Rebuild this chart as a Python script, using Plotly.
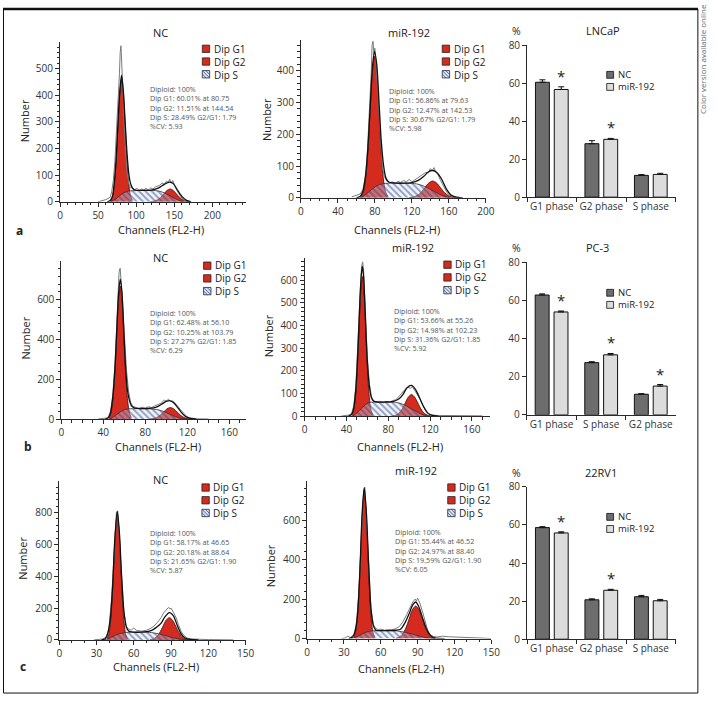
"""
Cell-cycle figure: ModFit DNA histograms (NC vs miR-192) and phase bar charts
for LNCaP, PC-3 and 22RV1 cells.
"""

import plotly.graph_objects as go

W, H = 717, 702
FONT = "Open Sans"
AX = "#2a2a2a"
RED = "#d42b1e"
RED_LINE = "#3b0d08"
HATCH = "#2f4a8a"

# ---------------- row a: LNCaP histograms ----------------
A_NC_G1_X = [66.4, 68.8, 71.2, 73.6, 76.0, 78.4, 80.75, 83.2, 85.6, 88.0, 90.4, 92.8, 95.2]
A_NC_G1_Y = [5, 20, 62, 149, 279, 406, 460, 406, 279, 149, 62, 20, 5]
A_NC_G2_X = [119, 123, 127.5, 132, 136, 140.3, 144.54, 148.8, 153, 157.3, 161.5, 166, 170]
A_NC_G2_Y = [0.5, 2, 6.5, 16, 29, 42, 48, 42, 29, 16, 6.5, 2, 0.5]
A_NC_S_X = [66, 72, 78, 84, 90, 100, 110, 120, 130, 138, 146, 154, 162]
A_NC_S_Y = [0, 8, 22, 34, 40, 42, 43, 43, 40, 32, 20, 8, 0]
A_NC_FIT_X = [62, 66, 69, 71, 73.5, 76, 78.5, 80.75, 83, 85.5, 88, 90.5, 93, 96, 100, 110, 120,
              128, 134, 140, 144.5, 149, 154, 160, 166, 172]
A_NC_FIT_Y = [0, 5, 22, 65, 155, 290, 415, 475, 420, 300, 180, 100, 65, 48, 43, 43, 44,
              50, 60, 70, 74, 67, 45, 20, 5, 0]
A_NC_DATA_X = [50, 55, 60, 63, 66, 68, 70, 72, 74, 76, 78, 79, 80, 81, 82, 84, 86, 88, 90, 92,
               95, 98, 101, 104, 107, 110, 113, 116, 119, 122, 125, 128, 131, 134, 137, 140, 142,
               144, 146, 148, 150, 152, 155, 158, 161, 164, 168, 172]
A_NC_DATA_Y = [0, 3, 8, 12, 18, 40, 80, 150, 250, 360, 480, 560, 585, 520, 430, 310, 190, 110, 70, 55,
               52, 46, 50, 42, 48, 45, 50, 44, 52, 48, 55, 58, 62, 70, 66, 78, 72,
               85, 70, 80, 60, 50, 35, 20, 10, 4, 1, 0]
A_NC_MARKS = [80.75, 144.54]
A_NC_STATS = ["Diploid: 100%", "Dip G1: 60.01% at 80.75", "Dip G2: 11.51% at 144.54",
              "Dip S: 28.49% G2/G1: 1.79", "%CV: 5.93"]

A_MIR_G1_X = [65.2, 67.6, 70.0, 72.4, 74.8, 77.2, 79.63, 82.0, 84.4, 86.8, 89.2, 91.6, 94.0]
A_MIR_G1_Y = [5, 19.5, 60, 144, 270, 393, 445, 393, 270, 144, 60, 19.5, 5]
A_MIR_G2_X = [117, 121.3, 125.5, 129.8, 134, 138.3, 142.53, 146.8, 151, 155.3, 159.5, 163.8, 168]
A_MIR_G2_Y = [0.6, 2.3, 7.2, 17, 32, 46.8, 53, 46.8, 32, 17, 7.2, 2.3, 0.6]
A_MIR_S_X = [64, 70, 76, 82, 88, 95, 105, 115, 125, 132, 140, 148, 156, 162]
A_MIR_S_Y = [0, 10, 25, 38, 44, 46, 46, 46, 44, 38, 27, 14, 4, 0]
A_MIR_FIT_X = [60, 64, 67, 70, 72.5, 75, 77.5, 79.63, 82, 84.5, 87, 89.5, 92, 95, 100, 110, 120,
               127, 133, 138, 142.5, 147, 152, 157, 162, 168, 175]
A_MIR_FIT_Y = [0, 4, 20, 72, 160, 290, 415, 460, 420, 300, 175, 100, 62, 50, 47, 46, 48,
               55, 68, 82, 86, 80, 60, 30, 10, 2, 0]
A_MIR_DATA_X = [55, 58, 61, 64, 67, 70, 72, 74, 76, 77, 78, 79, 80, 82, 84, 86, 88, 90, 93, 96,
                99, 102, 105, 108, 111, 114, 117, 120, 123, 126, 129, 132, 135, 138, 140, 142,
                144, 146, 148, 151, 154, 157, 160, 164, 168, 172]
A_MIR_DATA_Y = [3, 6, 8, 12, 25, 70, 150, 260, 390, 480, 492, 450, 470, 380, 280, 170, 100, 68, 52, 48,
                50, 45, 52, 48, 55, 50, 58, 50, 56, 60, 66, 72, 80, 78, 92, 85,
                95, 80, 75, 55, 38, 22, 10, 4, 2, 0]
A_MIR_MARKS = [79.63, 142.53]
A_MIR_STATS = ["Diploid: 100%", "Dip G1: 56.86% at 79.63", "Dip G2: 12.47% at 142.53",
               "Dip S: 30.67% G2/G1: 1.79", "%CV: 5.98"]

# ---------------- row b: PC-3 histograms ----------------
B_NC_G1_X = [45.5, 47.2, 49.0, 50.8, 52.6, 54.3, 56.10, 57.9, 59.6, 61.4, 63.2, 65.0, 66.7]
B_NC_G1_Y = [7.4, 29, 91, 217, 406, 591, 670, 591, 406, 217, 91, 29, 7.4]
B_NC_G2_X = [84.3, 87.5, 90.8, 94.0, 97.3, 100.5, 103.79, 107.0, 110.3, 113.5, 116.8, 120.0, 123.3]
B_NC_G2_Y = [0.6, 2.5, 7.8, 18.8, 35, 51, 58, 51, 35, 18.8, 7.8, 2.5, 0.6]
B_NC_S_X = [46, 50, 54, 58, 62, 66, 72, 80, 88, 94, 100, 106, 112, 118]
B_NC_S_Y = [0, 12, 28, 42, 50, 52, 52, 52, 50, 44, 32, 18, 6, 0]
B_NC_FIT_X = [42, 45, 47, 49, 51, 53, 54.5, 56.1, 57.7, 59.3, 61, 63, 65, 67, 70, 75, 82, 88, 93, 97,
              100.5, 103.8, 107, 110.5, 114, 118, 122, 128]
B_NC_FIT_Y = [0, 8, 35, 110, 250, 470, 630, 705, 640, 470, 280, 145, 90, 65, 55, 53, 53, 56, 66, 80,
              90, 92, 82, 60, 35, 14, 4, 0]
B_NC_DATA_X = [35, 40, 43, 45, 47, 49, 51, 53, 54, 55, 56, 57, 58, 60, 62, 64, 66, 68, 71, 74,
               77, 80, 83, 86, 89, 92, 95, 98, 100, 102, 104, 106, 108, 110, 113, 116, 119, 122,
               126, 130, 140]
B_NC_DATA_Y = [0, 2, 5, 12, 40, 120, 270, 500, 650, 740, 760, 700, 620, 430, 250, 140, 85, 65, 58, 52,
               60, 55, 62, 58, 66, 72, 80, 95, 90, 100, 88, 92, 78, 70, 50, 30, 15, 6,
               3, 1, 0]
B_NC_MARKS = [56.10]
B_NC_STATS = ["Diploid: 100%", "Dip G1: 62.48% at 56.10", "Dip G2: 10.25% at 103.79",
              "Dip S: 27.27% G2/G1: 1.85", "%CV: 6.29"]

B_MIR_G1_X = [45.4, 47.0, 48.7, 50.3, 52.0, 53.6, 55.26, 56.9, 58.6, 60.2, 61.9, 63.5, 65.2]
B_MIR_G1_Y = [6.8, 27, 83, 199, 373, 543, 615, 543, 373, 199, 83, 27, 6.8]
B_MIR_G2_X = [84.1, 87.1, 90.1, 93.2, 96.2, 99.2, 102.23, 105.2, 108.3, 111.3, 114.3, 117.4, 120.4]
B_MIR_G2_Y = [1, 4.2, 12.9, 30.8, 57.6, 84, 95, 84, 57.6, 30.8, 12.9, 4.2, 1]
B_MIR_S_X = [46, 50, 54, 58, 62, 66, 72, 80, 88, 94, 100, 106, 112, 118]
B_MIR_S_Y = [0, 14, 32, 50, 60, 62, 62, 62, 60, 52, 38, 22, 8, 0]
B_MIR_FIT_X = [42, 45, 47, 49, 51, 53, 54.2, 55.3, 56.5, 58, 60, 62, 64, 66, 70, 76, 84, 90, 94, 98,
               102.2, 106, 110, 114, 118, 122, 128]
B_MIR_FIT_Y = [0, 8, 35, 120, 290, 520, 620, 660, 610, 450, 240, 130, 80, 66, 62, 62, 64, 75, 95, 125,
               135, 118, 80, 40, 12, 3, 0]
B_MIR_DATA_X = [35, 40, 43, 45, 47, 49, 51, 53, 54.5, 55.5, 56.5, 58, 60, 62, 64, 66, 69, 72, 75, 78,
                81, 84, 87, 90, 93, 96, 99, 101, 103, 105, 107, 110, 113, 116, 119, 122, 126, 130,
                140, 150, 160, 170]
B_MIR_DATA_Y = [0, 2, 5, 12, 45, 130, 300, 530, 660, 680, 640, 470, 260, 140, 85, 68, 60, 66, 58, 64,
                60, 68, 72, 85, 100, 118, 128, 122, 130, 115, 105, 78, 48, 22, 10, 5, 3, 3,
                2, 3, 2, 1]
B_MIR_MARKS = [55.26, 102.23]
B_MIR_STATS = ["Diploid: 100%", "Dip G1: 53.66% at 55.26", "Dip G2: 14.98% at 102.23",
               "Dip S: 31.36% G2/G1: 1.85", "%CV: 5.92"]

# ---------------- row c: 22RV1 histograms ----------------
C_NC_G1_X = [38.4, 39.8, 41.15, 42.5, 43.9, 45.3, 46.65, 48.0, 49.4, 50.8, 52.15, 53.5, 54.9]
C_NC_G1_Y = [8.8, 35, 107, 256, 479, 697, 790, 697, 479, 256, 107, 35, 8.8]
C_NC_G2_X = [73.0, 75.6, 78.2, 80.8, 83.4, 86.0, 88.64, 91.2, 93.8, 96.4, 99.0, 101.6, 104.2]
C_NC_G2_Y = [1.6, 6.1, 19, 45.4, 85, 124, 140, 124, 85, 45.4, 19, 6.1, 1.6]
C_NC_S_X = [36, 40, 44, 48, 52, 56, 62, 68, 74, 80, 86, 92, 98, 104]
C_NC_S_Y = [0, 10, 25, 38, 45, 48, 48, 48, 46, 38, 26, 13, 4, 0]
C_NC_FIT_X = [34, 37, 39, 41, 43, 44.5, 46.65, 48.5, 50, 52, 54, 56, 58, 62, 68, 74, 78, 82, 85, 88.6,
              92, 95, 98, 101, 104, 108, 112]
C_NC_FIT_Y = [0, 8, 40, 130, 350, 610, 810, 660, 420, 180, 80, 55, 50, 48, 50, 58, 78, 105, 145, 172,
              150, 90, 40, 14, 5, 1, 0]
C_NC_DATA_X = [28, 32, 35, 38, 40, 42, 44, 45, 46, 47, 48, 50, 52, 54, 56, 58, 60, 62, 64, 66,
               68, 70, 73, 76, 79, 82, 84, 86, 88, 89, 90, 92, 94, 96, 98, 100, 103, 106, 110, 115,
               120, 130, 140]
C_NC_DATA_Y = [0, 2, 6, 20, 80, 250, 540, 720, 800, 810, 690, 430, 170, 85, 65, 62, 75, 60, 56, 55,
               58, 60, 70, 85, 110, 140, 170, 185, 205, 195, 200, 170, 140, 95, 55, 30, 12, 6, 4, 3,
               2, 1, 0]
C_NC_MARKS = [46.65, 88.64]
C_NC_STATS = ["Diploid: 100%", "Dip G1: 58.17% at 46.65", "Dip G2: 20.18% at 88.64",
              "Dip S: 21.65% G2/G1: 1.90", "%CV: 5.87"]

C_MIR_G1_X = [38.0, 39.4, 40.8, 42.2, 43.7, 45.1, 46.52, 47.9, 49.4, 50.8, 52.2, 53.6, 55.0]
C_MIR_G1_Y = [8.2, 32.4, 99.5, 238, 446, 649, 735, 649, 446, 238, 99.5, 32.4, 8.2]
C_MIR_G2_X = [72.4, 75.1, 77.7, 80.4, 83.1, 85.7, 88.40, 91.1, 93.7, 96.4, 99.1, 101.7, 104.4]
C_MIR_G2_Y = [1.8, 7.2, 22.3, 53.5, 100, 146, 165, 146, 100, 53.5, 22.3, 7.2, 1.8]
C_MIR_S_X = [36, 40, 44, 48, 52, 56, 62, 68, 74, 80, 86, 92, 98, 104]
C_MIR_S_Y = [0, 8, 20, 32, 38, 40, 40, 40, 38, 31, 22, 11, 3, 0]
C_MIR_FIT_X = [34, 37, 39, 41, 43, 44.8, 46.5, 48.2, 50, 52, 54, 56, 60, 66, 72, 76, 80, 83, 86, 88.4,
               91, 94, 97, 100, 103, 107, 112]
C_MIR_FIT_Y = [0, 8, 35, 120, 350, 635, 764, 642, 385, 148, 64, 42, 40, 40, 42, 47, 84, 125, 170, 185,
               160, 104, 51, 18, 5, 1, 0]
C_MIR_DATA_X = [28, 31, 33, 35, 38, 40, 42, 44, 45, 46, 47, 48, 50, 52, 54, 56, 58, 60, 63, 66,
                69, 72, 75, 78, 81, 84, 86, 88, 89, 90, 92, 94, 96, 98, 100, 103, 106, 110, 115, 120,
                125, 130, 135, 140, 150]
C_MIR_DATA_Y = [0, 3, 12, 5, 18, 70, 220, 520, 680, 750, 765, 640, 380, 150, 70, 50, 45, 48, 42, 45,
                44, 50, 60, 85, 120, 160, 185, 200, 190, 205, 175, 135, 85, 45, 20, 10, 8, 12, 9, 7,
                5, 6, 4, 3, 0]
C_MIR_MARKS = [46.52, 88.40]
C_MIR_STATS = ["Diploid: 100%", "Dip G1: 55.44% at 46.52", "Dip G2: 24.97% at 88.40",
               "Dip S: 19.59% G2/G1: 1.90", "%CV: 6.05"]

# ---------------- bar charts (% of cells per phase) ----------------
LNCAP_PHASES = ["G1 phase", "G2 phase", "S phase"]
LNCAP_NC = [60.6, 28.2, 11.5]
LNCAP_NC_ERR = [1.3, 1.6, 0.4]
LNCAP_MIR = [56.8, 30.5, 12.0]
LNCAP_MIR_ERR = [1.4, 0.5, 0.6]
LNCAP_SIG = [True, True, False]

PC3_PHASES = ["G1 phase", "S phase", "G2 phase"]
PC3_NC = [62.9, 27.4, 10.8]
PC3_NC_ERR = [0.6, 0.5, 0.3]
PC3_MIR = [54.0, 31.5, 15.1]
PC3_MIR_ERR = [0.5, 0.7, 0.8]
PC3_SIG = [True, True, True]

RV1_PHASES = ["G1 phase", "G2 phase", "S phase"]
RV1_NC = [58.6, 20.7, 22.3]
RV1_NC_ERR = [0.5, 0.5, 0.7]
RV1_MIR = [55.8, 25.7, 20.2]
RV1_MIR_ERR = [0.6, 0.5, 0.7]
RV1_SIG = [True, True, False]

HIST_LEGEND = ["Dip G1", "Dip G2", "Dip S"]
BAR_LEGEND = ["NC", "miR-192"]

BARGAP = 0.24
BARGROUPGAP = 0.26
LINE_STEP = 1.3  # plotly's line height for multi-line text, in em

fig = go.Figure()
annotations = []
shapes = []


def px_x(px):
    return px / W


def px_y(py):
    return 1 - py / H


def text(px, py, s, size=10.5, color="#222", xanchor="center", angle=0):
    annotations.append(dict(
        x=px_x(px), y=px_y(py), xref="paper", yref="paper", text=s, showarrow=False,
        xanchor=xanchor, yanchor="middle", textangle=angle, borderpad=0,
        align="left" if xanchor == "left" else "center",
        font=dict(size=size, color=color, family=FONT)))


def block(px, first_y, lines, size, color="#222"):
    # multi-line text; first_y is the centre of the first line
    mid = first_y + (len(lines) - 1) * LINE_STEP * size / 2
    text(px, mid, "<br>".join(lines), size=size, color=color, xanchor="left")


def rect(x0, y0, x1, y1, fill, line="#111", width=0.8):
    shapes.append(dict(type="rect", xref="paper", yref="paper",
                       x0=px_x(x0), x1=px_x(x1), y0=px_y(y1), y1=px_y(y0),
                       fillcolor=fill, line=dict(color=line, width=width)))


def seg(x0, y0, x1, y1, color, width=0.8):
    shapes.append(dict(type="line", xref="paper", yref="paper",
                       x0=px_x(x0), x1=px_x(x1), y0=px_y(y0), y1=px_y(y1),
                       line=dict(color=color, width=width)))


def axis_names(n):
    suffix = "" if n == 1 else str(n)
    return "x" + suffix, "y" + suffix, "xaxis" + suffix, "yaxis" + suffix


def add_histogram(n, g1, g2, s, fit, data, marks, stats, box, rng, dticks, spots, title):
    xref, yref, xkey, ykey = axis_names(n)
    x0, x1, yb, yt = box
    xr, yr = rng
    xdt, xmin, ydt, ymin = dticks

    common = dict(xaxis=xref, yaxis=yref, hoverinfo="skip", showlegend=False)
    for cx, cy in (g1, g2):
        fig.add_trace(go.Scatter(x=cx, y=cy, mode="lines", fill="tozeroy", fillcolor=RED,
                                 line=dict(color=RED_LINE, width=0.8, shape="spline", smoothing=0.8),
                                 **common))
    fig.add_trace(go.Scatter(x=s[0], y=s[1], mode="lines", fill="tozeroy",
                             fillcolor="rgba(0,0,0,0)",
                             fillpattern=dict(shape="\\", fgcolor=HATCH, bgcolor="rgba(220,228,245,0.35)",
                                              size=4.5, solidity=0.45),
                             line=dict(color="#3a2a40", width=0.8, shape="spline", smoothing=0.8),
                             **common))
    fig.add_trace(go.Scatter(x=data[0], y=data[1], mode="lines",
                             line=dict(color="#7a7a7a", width=1), **common))
    fig.add_trace(go.Scatter(x=fit[0], y=fit[1], mode="lines",
                             line=dict(color="#111", width=1.3, shape="spline", smoothing=0.8),
                             **common))
    # peak markers sit just under the axis line
    below = -4.5 * yr / (yb - yt)
    fig.add_trace(go.Scatter(x=marks, y=[below] * len(marks), mode="markers", cliponaxis=False,
                             marker=dict(symbol="triangle-up", size=6, color="#111"), **common))

    tick = dict(showline=True, linecolor=AX, linewidth=1, ticks="outside", ticklen=4,
                tickwidth=1, tickcolor=AX, showgrid=False, zeroline=False, tick0=0,
                tickfont=dict(size=10, color="#333", family=FONT))
    fig.update_layout(**{
        xkey: dict(domain=[px_x(x0), px_x(x1)], range=[0, xr], anchor=yref, dtick=xdt,
                   minor=dict(ticks="outside", ticklen=2.5, dtick=xmin, tickcolor=AX), **tick),
        ykey: dict(domain=[px_y(yb), px_y(yt)], range=[0, yr], anchor=xref, dtick=ydt,
                   minor=dict(ticks="outside", ticklen=2.5, dtick=ymin, tickcolor=AX), **tick),
    })

    (tx, ty), (lx, ly), (sx, sy), (nx, ny), (cx_, cy_) = spots
    text(tx, ty, title, size=11)
    size = 10
    sq = 7.5
    for i in range(len(HIST_LEGEND)):
        top = ly + i * LINE_STEP * size - sq / 2
        if i < 2:
            rect(lx, top, lx + sq, top + sq, RED, line="#222")
        else:
            rect(lx, top, lx + sq, top + sq, "#dde4f2", line="#222")
            seg(lx, top, lx + sq, top + sq, HATCH)
            seg(lx + 3.5, top, lx + sq, top + sq - 3.5, HATCH)
            seg(lx, top + 3.5, lx + sq - 3.5, top + sq, HATCH)
    block(lx + sq + 3, ly, HIST_LEGEND, size)
    block(sx, sy, stats, 7.2, color="#555")
    text(nx, ny, "Number", size=11, angle=-90)
    text(cx_, cy_, "Channels (FL2-H)", size=11)


def add_bars(n, phases, nc, nc_err, mir, mir_err, sig, box, spots, title):
    xref, yref, xkey, ykey = axis_names(n)
    x0, x1, yb, yt = box
    colors = ["#6d6d6d", "#dcdcdc"]
    for vals, errs, color, name in ((nc, nc_err, colors[0], BAR_LEGEND[0]),
                                    (mir, mir_err, colors[1], BAR_LEGEND[1])):
        fig.add_trace(go.Bar(x=phases, y=vals, name=name, xaxis=xref, yaxis=yref, showlegend=False,
                             marker=dict(color=color, line=dict(color="#111", width=1)),
                             error_y=dict(type="data", array=errs, arrayminus=[0] * len(errs),
                                          symmetric=False, color="#111", thickness=1, width=3)))
    shift = (1 - BARGAP) / 4
    for i, flag in enumerate(sig):
        if flag:
            annotations.append(dict(x=i + shift, y=mir[i] + mir_err[i], xref=xref, yref=yref,
                                    text="*", showarrow=False, yshift=11,
                                    font=dict(size=15, color="#222", family=FONT)))

    tick = dict(showline=True, linecolor=AX, linewidth=1, ticks="outside", ticklen=4,
                tickwidth=1, tickcolor=AX, showgrid=False, zeroline=False,
                tickfont=dict(size=10, color="#333", family=FONT))
    fig.update_layout(**{
        xkey: dict(domain=[px_x(x0), px_x(x1)], type="category", categoryorder="array",
                   categoryarray=phases, range=[-0.5, 2.5], tickson="boundaries",
                   tickangle=0, anchor=yref, **tick),
        ykey: dict(domain=[px_y(yb), px_y(yt)], range=[0, 80], dtick=20, anchor=xref, **tick),
    })

    (tx, ty), (px_, py_), (lx, ly) = spots
    text(tx, ty, title, size=11)
    text(px_, py_, "%", size=10.5)
    size = 9.5
    sq = 7
    for i, color in enumerate(colors):
        cy = ly + i * LINE_STEP * size
        rect(lx, cy - sq / 2, lx + sq, cy + sq / 2, color, line="#111")
    block(lx + sq + 3, ly, BAR_LEGEND, size)


# row a
add_histogram(1, (A_NC_G1_X, A_NC_G1_Y), (A_NC_G2_X, A_NC_G2_Y), (A_NC_S_X, A_NC_S_Y),
              (A_NC_FIT_X, A_NC_FIT_Y), (A_NC_DATA_X, A_NC_DATA_Y), A_NC_MARKS, A_NC_STATS,
              (58, 247, 198, 35), (244, 598), (50, 10, 100, 20),
              ((160, 25), (202.7, 41.7), (148, 83), (22, 115), (160.8, 226)), "NC")
add_histogram(2, (A_MIR_G1_X, A_MIR_G1_Y), (A_MIR_G2_X, A_MIR_G2_Y), (A_MIR_S_X, A_MIR_S_Y),
              (A_MIR_FIT_X, A_MIR_FIT_Y), (A_MIR_DATA_X, A_MIR_DATA_Y), A_MIR_MARKS, A_MIR_STATS,
              (303, 491, 194, 33), (200, 495), (40, 10, 100, 20),
              ((413, 25), (446.7, 41.7), (392, 85), (268, 114), (400.8, 226)), "miR-192")
add_bars(3, LNCAP_PHASES, LNCAP_NC, LNCAP_NC_ERR, LNCAP_MIR, LNCAP_MIR_ERR, LNCAP_SIG,
         (533, 684, 193.3, 38.3), ((610, 23), (522, 23), (614, 68.3)), "LNCaP")

# row b
add_histogram(4, (B_NC_G1_X, B_NC_G1_Y), (B_NC_G2_X, B_NC_G2_Y), (B_NC_S_X, B_NC_S_Y),
              (B_NC_FIT_X, B_NC_FIT_Y), (B_NC_DATA_X, B_NC_DATA_Y), B_NC_MARKS, B_NC_STATS,
              (59.3, 247.3, 420, 258.3), (176, 797), (40, 10, 200, 40),
              ((160, 255), (204, 263.3), (148, 312), (23, 337), (158, 448)), "NC")
add_histogram(5, (B_MIR_G1_X, B_MIR_G1_Y), (B_MIR_G2_X, B_MIR_G2_Y), (B_MIR_S_X, B_MIR_S_Y),
              (B_MIR_FIT_X, B_MIR_FIT_Y), (B_MIR_DATA_X, B_MIR_DATA_Y), B_MIR_MARKS, B_MIR_STATS,
              (306.7, 495, 417, 255), (177, 699), (40, 10, 100, 20),
              ((417, 245), (448.3, 262.3), (397, 310), (270, 335), (404, 448)), "miR-192")
add_bars(6, PC3_PHASES, PC3_NC, PC3_NC_ERR, PC3_MIR, PC3_MIR_ERR, PC3_SIG,
         (532.7, 684, 415.7, 260), ((605, 245), (522, 245), (614, 291)), "PC-3")

# row c
add_histogram(7, (C_NC_G1_X, C_NC_G1_Y), (C_NC_G2_X, C_NC_G2_Y), (C_NC_S_X, C_NC_S_Y),
              (C_NC_FIT_X, C_NC_FIT_Y), (C_NC_DATA_X, C_NC_DATA_Y), C_NC_MARKS, C_NC_STATS,
              (57.3, 246.7, 645.7, 483.3), (150, 999), (30, 10, 200, 40),
              ((160, 482), (202.3, 490), (148, 537), (20, 562), (156, 673)), "NC")
add_histogram(8, (C_MIR_G1_X, C_MIR_G1_Y), (C_MIR_G2_X, C_MIR_G2_Y), (C_MIR_S_X, C_MIR_S_Y),
              (C_MIR_FIT_X, C_MIR_FIT_Y), (C_MIR_DATA_X, C_MIR_DATA_Y), C_MIR_MARKS, C_MIR_STATS,
              (309.3, 496.7, 644.3, 483.3), (150, 798), (30, 10, 200, 40),
              ((420, 473), (452.3, 490), (398, 536), (272, 570), (404.5, 675)), "miR-192")
add_bars(9, RV1_PHASES, RV1_NC, RV1_NC_ERR, RV1_MIR, RV1_MIR_ERR, RV1_SIG,
         (533, 684, 645, 489.3), ((608, 475), (522, 475), (614, 520)), "22RV1")

# panel letters, frame and side note
text(17, 227, "<b>a</b>", size=12)
text(25, 448, "<b>b</b>", size=12)
text(20, 673, "<b>c</b>", size=12)
text(712, 52, "Color version available online", size=8, color="#666", angle=-90)
rect(0.5, 1, 706.7, 700, "rgba(0,0,0,0)", line="#111", width=1)
seg(0, 1, 706.7, 1, "#111", width=2.5)

fig.update_layout(
    width=W, height=H,
    margin=dict(l=0, r=0, t=0, b=0),
    paper_bgcolor="white", plot_bgcolor="white",
    showlegend=False,
    barmode="group", bargap=BARGAP, bargroupgap=BARGROUPGAP,
    annotations=annotations, shapes=shapes,
    font=dict(family=FONT, color="#222"),
)

# drop the browser's default body margin so the figure sits at the page corner
fig.write_html("out.html", config={"displayModeBar": False},
               post_script="document.body.style.margin='0';document.body.style.overflow='hidden';")
